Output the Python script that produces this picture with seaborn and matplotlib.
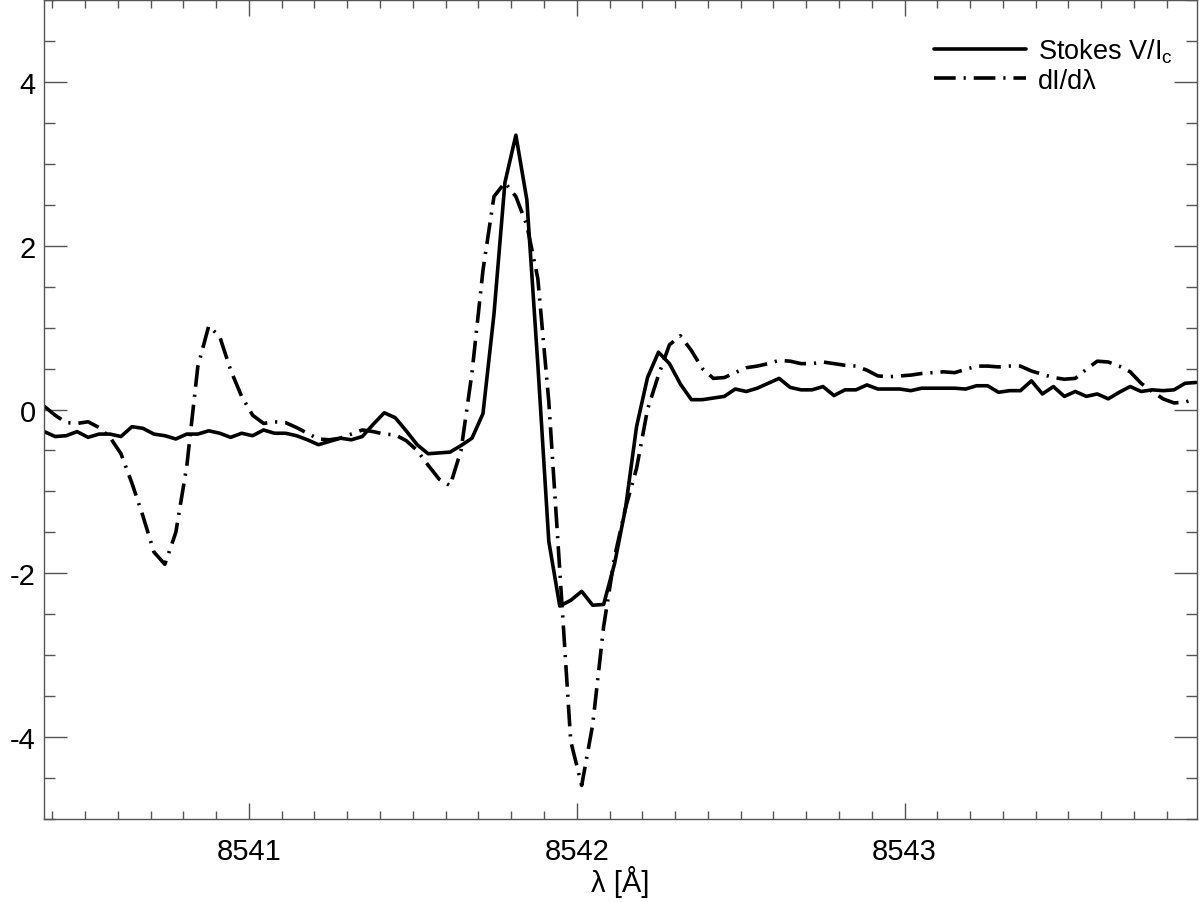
import numpy as np
import pandas as pd
import matplotlib.pyplot as plt
import seaborn as sns
from matplotlib.ticker import MultipleLocator, FormatStrFormatter


# wavelength scan [Å], uniform sampling
wl_start = 8540.3756
wl_step = 0.03346
n_wl = 106
wavelength = wl_start + wl_step * np.arange(n_wl)

# Stokes V / I_c
stokes_v = [-0.27, -0.33, -0.32, -0.27, -0.34, -0.30, -0.30, -0.33, -0.21, -0.23,
            -0.30, -0.32, -0.36, -0.30, -0.30, -0.26, -0.29, -0.34, -0.29, -0.32,
            -0.25, -0.29, -0.29, -0.32, -0.37, -0.43, -0.39, -0.35, -0.37, -0.33,
            -0.18, -0.04, -0.10, -0.26, -0.43, -0.54, -0.53, -0.52, -0.44, -0.35,
            -0.05, 1.16, 2.77, 3.35, 2.56, 0.55, -1.61, -2.40, -2.33, -2.22,
            -2.39, -2.38, -1.88, -1.20, -0.21, 0.39, 0.70, 0.56, 0.31, 0.12,
            0.12, 0.14, 0.16, 0.25, 0.22, 0.26, 0.32, 0.38, 0.27, 0.24,
            0.24, 0.28, 0.17, 0.24, 0.24, 0.30, 0.25, 0.25, 0.25, 0.23,
            0.26, 0.26, 0.26, 0.26, 0.25, 0.29, 0.29, 0.21, 0.23, 0.23,
            0.35, 0.19, 0.28, 0.16, 0.22, 0.16, 0.19, 0.13, 0.21, 0.28,
            0.22, 0.24, 0.23, 0.24, 0.32, 0.33]

# dI/dlambda
didl = [0.04, -0.07, -0.16, -0.17, -0.15, -0.22, -0.34, -0.54, -0.90, -1.30,
        -1.74, -1.89, -1.50, -0.69, 0.52, 1.02, 0.89, 0.48, 0.16, -0.07,
        -0.17, -0.15, -0.16, -0.22, -0.29, -0.36, -0.37, -0.35, -0.30, -0.25,
        -0.27, -0.30, -0.31, -0.38, -0.50, -0.68, -0.85, -0.93, -0.50, 0.45,
        1.70, 2.60, 2.77, 2.60, 2.25, 1.60, 0.10, -1.96, -4.05, -4.59,
        -3.85, -2.65, -1.80, -1.20, -0.72, 0.00, 0.42, 0.79, 0.90, 0.72,
        0.50, 0.38, 0.39, 0.45, 0.51, 0.53, 0.56, 0.60, 0.59, 0.56,
        0.56, 0.58, 0.56, 0.54, 0.53, 0.48, 0.41, 0.40, 0.41, 0.42,
        0.44, 0.45, 0.46, 0.45, 0.49, 0.53, 0.53, 0.52, 0.53, 0.53,
        0.47, 0.43, 0.39, 0.37, 0.38, 0.49, 0.59, 0.58, 0.53, 0.46,
        0.32, 0.22, 0.13, 0.08, 0.09, 0.13]

df = pd.DataFrame({'wavelength': wavelength, 'stokes': stokes_v, 'didl': didl})

sns.set_theme(style='white')
plt.rcParams['font.family'] = ['Liberation Sans', 'DejaVu Sans']
plt.rcParams['axes.unicode_minus'] = False
plt.rcParams['text.color'] = 'black'

fig = plt.figure(figsize=(12, 9.03), dpi=100)
ax = fig.add_axes([44/1200, 1 - 820/903, (1197 - 44)/1200, (820 - 1)/903])

sns.lineplot(data=df, x='wavelength', y='stokes', ax=ax, color='black',
             lw=2.6, label='Stokes V/I$_\\mathregular{c}$')
sns.lineplot(data=df, x='wavelength', y='didl', ax=ax, color='black',
             lw=2.6, ls=(0, (6, 2.2, 0.6, 2.2)), label='dI/dλ')

ax.set_xlim(8540.375, 8543.892)
ax.set_ylim(-5, 5)
ax.xaxis.set_major_locator(MultipleLocator(1))
ax.xaxis.set_minor_locator(MultipleLocator(0.1))
ax.xaxis.set_major_formatter(FormatStrFormatter('%d'))
ax.yaxis.set_major_locator(MultipleLocator(2))
ax.yaxis.set_minor_locator(MultipleLocator(0.5))
ax.yaxis.set_major_formatter(FormatStrFormatter('%d'))

ax.tick_params(axis='x', which='major', direction='in', length=11.5, width=1,
               color='#555555', top=True, bottom=True, labelsize=21, pad=13,
               labelcolor='black')
ax.tick_params(axis='x', which='minor', direction='in', length=5.8, width=1,
               color='#555555', top=True, bottom=True)
ax.tick_params(axis='y', which='major', direction='in', length=16.5, width=1,
               color='#555555', left=True, right=True, labelsize=21, pad=6,
               labelcolor='black')
ax.tick_params(axis='y', which='minor', direction='in', length=8, width=1,
               color='#555555', left=True, right=True)
for s in ax.spines.values():
    s.set_color('#555555')
    s.set_linewidth(1)

ax.set_xlabel('λ [Å]', fontsize=21, labelpad=0, color='black')
ax.set_ylabel('')

ax.legend(loc='upper right', bbox_to_anchor=(1.0, 0.985), frameon=False,
          fontsize=19.5, handlelength=3.4, handletextpad=0.45,
          labelspacing=0.1, borderaxespad=0.5, labelcolor='black')

fig.savefig('out.png', dpi=100)
